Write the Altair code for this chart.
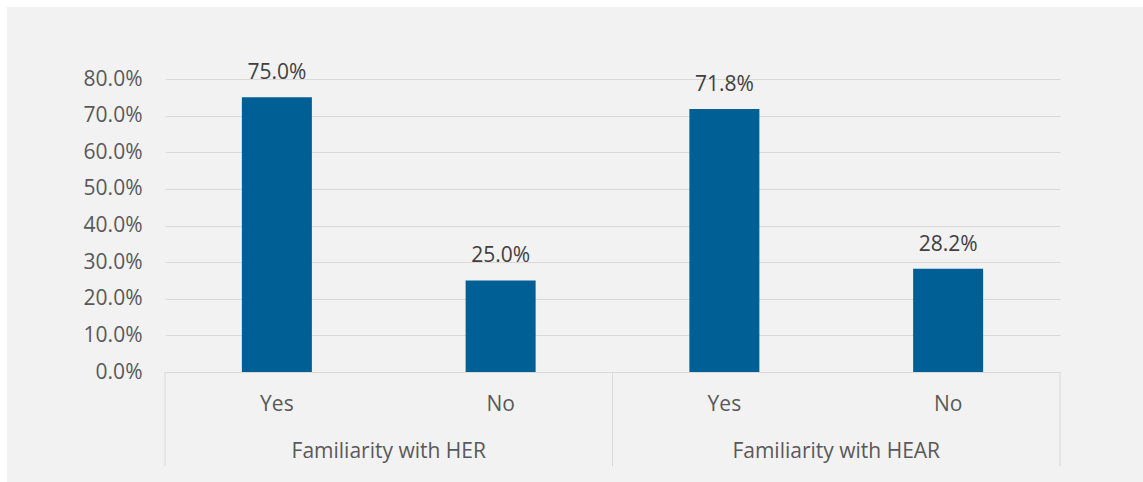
import altair as alt
import pandas as pd

groups = ["Familiarity with HER", "Familiarity with HEAR"]
answers = ["Yes", "No"]
values = [0.750, 0.250, 0.718, 0.282]
y_ticks = [0.0, 0.1, 0.2, 0.3, 0.4, 0.5, 0.6, 0.7, 0.8]

rows = []
for gi, g in enumerate(groups):
    for ai, a in enumerate(answers):
        idx = gi * len(answers) + ai
        rows.append({"group": g, "answer": a, "value": values[idx], "pos": idx + 0.5})
df = pd.DataFrame(rows)

group_df = pd.DataFrame({"group": groups,
                         "center": [gi * len(answers) + len(answers) / 2 for gi in range(len(groups))]})
div_df = pd.DataFrame({"b": [gi * len(answers) for gi in range(len(groups) + 1)]})
one_df = pd.DataFrame({"k": [0]})

W, H = 895, 293
FONT = "Open Sans"
FS = 21
n = len(groups) * len(answers)

xscale = alt.Scale(domain=[0, n], nice=False, zero=False, padding=0)
yscale = alt.Scale(domain=[0, 0.8], nice=False)
yaxis = alt.Axis(values=y_ticks, tickCount=len(y_ticks), format=".1%", title=None,
                 domain=False, ticks=False, labelPadding=23,
                 labelOverlap=False, labelFlush=False,
                 labelFontSize=FS, labelFont=FONT, labelColor="#595959",
                 gridColor="#d9d9d9", gridWidth=1)

# white page margin strips (top and left), outside the plot area
strip_left = alt.Chart(one_df).mark_rect(color="white").encode(
    x=alt.value(-165), x2=alt.value(-158), y=alt.value(-79), y2=alt.value(403)
)
strip_top = alt.Chart(one_df).mark_rect(color="white").encode(
    x=alt.value(-165), x2=alt.value(978), y=alt.value(-79), y2=alt.value(-72)
)

bars = alt.Chart(df).mark_bar(size=70, color="#005f95").encode(
    x=alt.X("pos:Q", scale=xscale, axis=None),
    y=alt.Y("value:Q", scale=yscale, axis=yaxis),
)

bar_labels = alt.Chart(df).mark_text(font=FONT, fontSize=FS, color="#404040",
                                     baseline="alphabetic", dy=-18).encode(
    x=alt.X("pos:Q", scale=xscale, axis=None),
    y=alt.Y("value:Q", scale=yscale, axis=yaxis),
    text=alt.Text("value:Q", format=".1%"),
)

cat_labels = alt.Chart(df).mark_text(font=FONT, fontSize=FS, color="#595959",
                                     baseline="alphabetic").encode(
    x=alt.X("pos:Q", scale=xscale, axis=None),
    y=alt.value(H + 39),
    text="answer:N",
)

grp_labels = alt.Chart(group_df).mark_text(font=FONT, fontSize=FS, color="#595959",
                                           baseline="alphabetic").encode(
    x=alt.X("center:Q", scale=xscale, axis=None),
    y=alt.value(H + 86),
    text="group:N",
)

dividers = alt.Chart(div_df).mark_rule(color="#d9d9d9", strokeWidth=1).encode(
    x=alt.X("b:Q", scale=xscale, axis=None),
    y=alt.value(H),
    y2=alt.value(H + 94),
)

chart = alt.layer(strip_left, strip_top, bars, bar_labels, cat_labels, grp_labels, dividers).properties(
    width=W, height=H,
    padding={"left": 0, "top": 0, "right": 0, "bottom": 0},
    background="#f2f2f2",
).configure_view(stroke=None)

chart.save("out.html", embed_options={"renderer": "svg", "actions": False})
